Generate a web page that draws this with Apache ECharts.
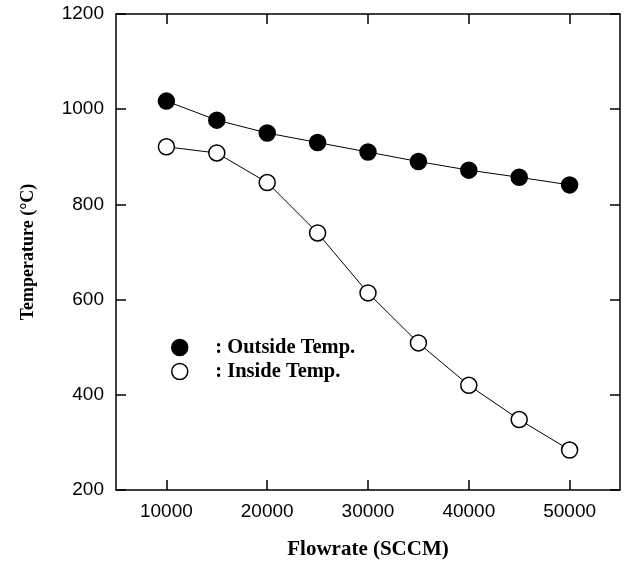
<!DOCTYPE html>
<html>
<head>
<meta charset="utf-8">
<script src="https://cdn.jsdelivr.net/npm/echarts@6/dist/echarts.min.js"></script>
<style>
  html, body { margin: 0; padding: 0; background: #fff; }
  #chart { width: 629px; height: 567px; }
</style>
</head>
<body>
<div id="chart"></div>
<script>
// Flowrate (SCCM) values for each measurement
const flowrates = [10000, 15000, 20000, 25000, 30000, 35000, 40000, 45000, 50000];
// Measured temperatures (°C)
const outsideTemp = [1017, 977, 950, 930, 910, 890, 872, 857, 841];
const insideTemp = [921, 908, 846, 740, 614, 509, 420, 348, 284];
const xTicks = [10000, 20000, 30000, 40000, 50000];
const yTicks = [200, 400, 600, 800, 1000, 1200];

const serifBold = { fontFamily: 'Liberation Serif', fontWeight: 'bold', color: '#000' };
const sans = 'Liberation Sans';

function pairs(xs, ys) { return xs.map((x, i) => [x, ys[i]]); }

const chart = echarts.init(document.getElementById('chart'), null, { renderer: 'canvas' });

const axisLine = { show: true, lineStyle: { color: '#000', width: 1.5 } };
const tickStyle = { color: '#000', width: 1.5 };
const xTick = { show: true, inside: true, length: 10, lineStyle: tickStyle, customValues: xTicks };
const yTick = { show: true, inside: true, length: 10, lineStyle: tickStyle, customValues: yTicks };
const plain = v => String(v);

chart.setOption({
  animation: false,
  backgroundColor: '#fff',
  grid: { left: 116, right: 9, top: 14, bottom: 77, containLabel: false },
  legend: {
    orient: 'vertical',
    left: 166,
    top: 332,
    itemWidth: 61,
    itemHeight: 16,
    itemGap: 3,
    icon: 'circle',
    textStyle: Object.assign({ fontSize: 20.5 }, serifBold),
    formatter: name => ': ' + name,
    data: [
      { name: 'Outside Temp.', itemStyle: { color: '#000', borderColor: '#000', borderWidth: 1.5 } },
      { name: 'Inside Temp.', itemStyle: { color: '#fff', borderColor: '#000', borderWidth: 1.5 } }
    ]
  },
  xAxis: [
    {
      type: 'value', min: 5000, max: 55000,
      name: 'Flowrate (SCCM)', nameLocation: 'middle', nameGap: 49,
      nameTextStyle: Object.assign({ fontSize: 21 }, serifBold),
      axisLine, axisTick: xTick,
      axisLabel: {
        fontFamily: sans, fontSize: 19, color: '#000', margin: 12,
        customValues: xTicks, formatter: plain
      },
      splitLine: { show: false }
    },
    {
      type: 'value', position: 'top', min: 5000, max: 55000,
      axisLine, axisTick: xTick, axisLabel: { show: false }, splitLine: { show: false }
    }
  ],
  yAxis: [
    {
      type: 'value', min: 200, max: 1200,
      name: 'Temperature (°C)', nameLocation: 'middle', nameGap: 79,
      nameTextStyle: Object.assign({ fontSize: 18 }, serifBold),
      axisLine, axisTick: yTick,
      axisLabel: {
        fontFamily: sans, fontSize: 19, color: '#000', margin: 12,
        customValues: yTicks, formatter: plain
      },
      splitLine: { show: false }
    },
    {
      type: 'value', position: 'right', min: 200, max: 1200,
      axisLine, axisTick: yTick, axisLabel: { show: false }, splitLine: { show: false }
    }
  ],
  series: [
    {
      name: 'Outside Temp.', type: 'line', data: pairs(flowrates, outsideTemp),
      symbol: 'circle', symbolSize: 16,
      lineStyle: { color: '#000', width: 1 },
      itemStyle: { color: '#000', borderColor: '#000', borderWidth: 1.5 },
      z: 3
    },
    {
      name: 'Inside Temp.', type: 'line', data: pairs(flowrates, insideTemp),
      symbol: 'circle', symbolSize: 16,
      lineStyle: { color: '#000', width: 1 },
      itemStyle: { color: '#fff', borderColor: '#000', borderWidth: 1.5 },
      z: 3
    }
  ]
});
</script>
</body>
</html>
